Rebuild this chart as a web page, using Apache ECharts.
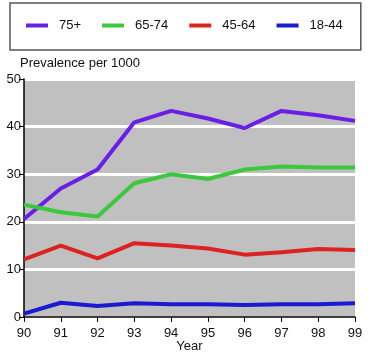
<!DOCTYPE html>
<html><head><meta charset="utf-8">
<script src="https://cdn.jsdelivr.net/npm/echarts@6/dist/echarts.min.js"></script>
<style>html,body{margin:0;padding:0;background:#fff}#c{width:371px;height:359px}</style>
</head><body><div id="c"></div>
<script>
const years = ['90','91','92','93','94','95','96','97','98','99'];
const s75 = [20.6, 27.0, 31.0, 40.9, 43.3, 41.7, 39.7, 43.3, 42.4, 41.2];
const s65 = [23.6, 22.0, 21.1, 28.1, 30.0, 29.0, 31.0, 31.6, 31.4, 31.4];
const s45 = [12.1, 15.0, 12.3, 15.5, 15.0, 14.4, 13.1, 13.6, 14.3, 14.1];
const s18 = [0.7, 3.0, 2.3, 2.9, 2.7, 2.7, 2.5, 2.7, 2.7, 2.9];
const names = ['75+', '65-74', '45-64', '18-44'];
const colors = ['#6a1fe6', '#3cc83c', '#dd2222', '#1a1ad0'];
const font = 'Liberation Sans, Arial, sans-serif';

const chart = echarts.init(document.getElementById('c'), null, {renderer: 'canvas'});
const mk = (name, data, color) => ({
  name, type: 'line', data, symbol: 'none', smooth: false,
  lineStyle: {color, width: 4}, itemStyle: {color}
});
chart.setOption({
  animation: false,
  textStyle: {fontFamily: font},
  title: {
    text: 'Prevalence per 1000', left: 15, top: 52,
    textStyle: {fontSize: 13, fontWeight: 'normal', color: '#111', fontFamily: font}
  },
  legend: {
    data: names.map(n => ({name: n, icon: 'rect'})),
    left: 10, top: 3,
    padding: [16, 18, 18, 16],
    borderColor: '#555', borderWidth: 1.5,
    itemWidth: 22, itemHeight: 4, itemGap: 21,
    textStyle: {fontSize: 13, color: '#111', fontFamily: font, padding: [0, 0, 0, 6]}
  },
  grid: {
    left: 24, right: 16, top: 79, bottom: 42,
    outerBoundsMode: 'none', containLabel: false,
    show: true, backgroundColor: '#c0c0c0', borderWidth: 0
  },
  xAxis: {
    type: 'category', data: years, boundaryGap: false,
    name: 'Year', nameLocation: 'middle', nameGap: 23, nameMoveOverlap: false,
    nameTextStyle: {fontSize: 13, color: '#111', fontFamily: font},
    axisLine: {lineStyle: {color: '#000', width: 1.5}},
    axisTick: {alignWithLabel: true, length: 5, lineStyle: {color: '#000'}},
    axisLabel: {fontSize: 13, color: '#111', margin: 10, fontFamily: font},
    splitLine: {show: false}
  },
  yAxis: {
    type: 'value', min: 0, max: 50, interval: 10,
    axisLine: {show: true, lineStyle: {color: '#000', width: 1.5}},
    axisTick: {show: true, length: 5, lineStyle: {color: '#000'}},
    axisLabel: {fontSize: 13, color: '#111', margin: 3, fontFamily: font},
    splitLine: {show: true, lineStyle: {color: '#fff', width: 3}}
  },
  series: [
    mk(names[0], s75, colors[0]),
    mk(names[1], s65, colors[1]),
    mk(names[2], s45, colors[2]),
    mk(names[3], s18, colors[3])
  ]
});
</script></body></html>
